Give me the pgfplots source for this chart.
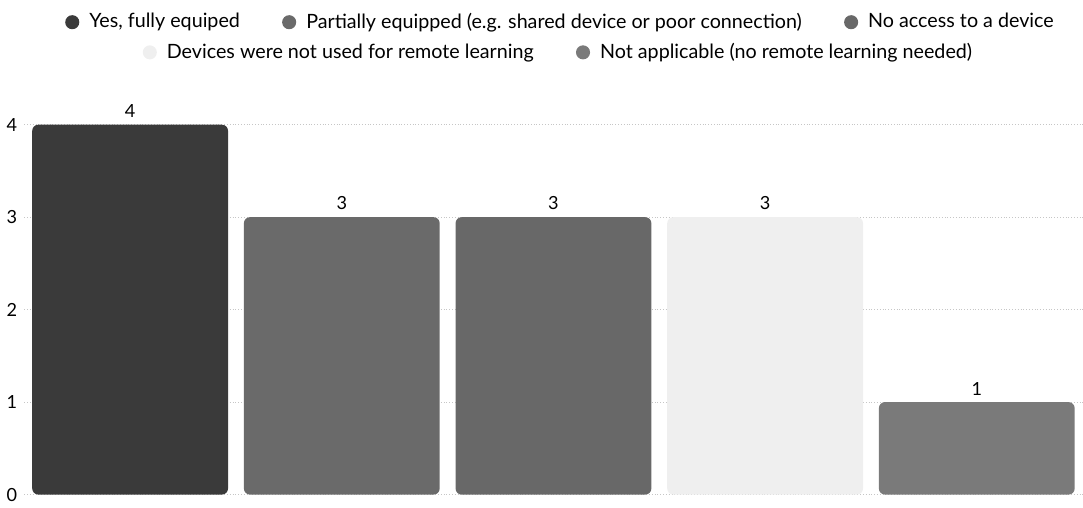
\documentclass[border=0pt]{standalone}
\usepackage{pgfplots}
\pgfplotsset{compat=1.18}
\usepackage{fontspec}
\setmainfont{Lato}
\definecolor{cA}{HTML}{3A3A3A}
\definecolor{cB}{HTML}{6A6A6A}
\definecolor{cC}{HTML}{686868}
\definecolor{cD}{HTML}{EFEFEF}
\definecolor{cE}{HTML}{7A7A7A}
\pgfplotsset{
  common/.style={
    scale only axis, width=526.5pt, height=184pt,
    xmin=-0.5, xmax=4.5, ymin=0, ymax=4,
    axis line style={draw=none}, tick style={draw=none},
    xtick=\empty,
    /pgf/number format/assume math mode=true,
    ybar, bar width=0.925, bar shift=0pt,
    clip=false,
    nodes near coords,
    every node near coord/.append style={font=\fontsize{9}{10}\selectfont, text=black, yshift=0pt},
    legend image code/.code={\fill[##1] (0.25em,0) circle (3.5pt);},
    legend style={draw=none, fill=none, font=\fontsize{9.8}{11}\selectfont,
      legend columns=-1,
      /tikz/every odd column/.append style={column sep=3pt},
      /tikz/every even column/.append style={column sep=19pt}},
  }
}
\begin{document}
\begin{tikzpicture}
\begin{axis}[common,
  ytick={0,1,2,3,4},
  yticklabel style={font=\fontsize{9}{10}\selectfont},
  ymajorgrids, grid style={densely dotted, gray!45, line width=0.4pt},
  legend style={at={(0.5,1)}, anchor=center, yshift=51pt, xshift=4pt, inner ysep=4.5pt},
]
\addplot[fill=cA, draw=none, rounded corners=3pt] coordinates {(0,4)};
\addlegendentry{Yes, fully equiped}
\addplot[fill=cB, draw=none, rounded corners=3pt] coordinates {(1,3)};
\addlegendentry{Partially equipped (e.g. shared device or poor connection)}
\addplot[fill=cC, draw=none, rounded corners=3pt] coordinates {(2,3)};
\addlegendentry{No access to a device}
\end{axis}
\begin{axis}[common,
  ytick=\empty,
  legend style={at={(0.5,1)}, anchor=center, yshift=36pt, xshift=3pt},
]
\addplot[fill=cD, draw=none, rounded corners=3pt] coordinates {(3,3)};
\addlegendentry{Devices were not used for remote learning}
\addplot[fill=cE, draw=none, rounded corners=3pt] coordinates {(4,1)};
\addlegendentry{Not applicable (no remote learning needed)}
\end{axis}
\end{tikzpicture}
\end{document}
